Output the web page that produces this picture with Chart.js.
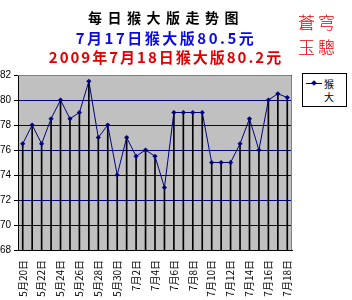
<!DOCTYPE html>
<html>
<head>
<meta charset="utf-8">
<script src="https://cdn.jsdelivr.net/npm/chart.js@4"></script>
<style>
  html, body { margin: 0; padding: 0; background: #fff; }
  body { width: 352px; height: 300px; overflow: hidden; position: relative; }
  #wrap { position: absolute; left: -4px; top: 0; width: 356px; height: 315px; }
  .t { position: absolute; left: 0; width: 332px; text-align: center; font-weight: bold;
       font-family: "Noto Sans CJK SC", sans-serif; white-space: nowrap; }
  #t1 { top: 7px; font-size: 14px; line-height: 20px; letter-spacing: 5.5px; color: #000; }
  #t2 { top: 28px; font-size: 15px; line-height: 20px; letter-spacing: 2.5px; color: #0a0ae6; }
  #t3 { top: 47px; font-size: 15px; line-height: 20px; letter-spacing: 2px; color: #e00000; }
  .seal { position: absolute; left: 298px; font-size: 17px; line-height: 20px; color: #e00000;
          font-family: "Noto Sans CJK TC", sans-serif; font-weight: 300; letter-spacing: 3px; }
  #legend { position: absolute; left: 302px; top: 73px; width: 43px; height: 32px;
            border: 1px solid #000; background: #fff; font-family: "Noto Sans CJK SC", sans-serif;
            font-size: 10px; line-height: 13px; }
  #legend .ln { position: absolute; left: 3px; top: 9px; width: 16px; height: 1px; background: #000080; }
  #legend .mk { position: absolute; left: 9px; top: 7px; width: 4px; height: 4px; background: #000080;
                transform: rotate(45deg); }
  #legend .tx { position: absolute; left: 21px; top: 3px; }
</style>
</head>
<body>
<div id="wrap"><canvas id="c" width="356" height="315"></canvas></div>
<div class="t" id="t1">每日猴大版走势图</div>
<div class="t" id="t2">7月17日猴大版80.5元</div>
<div class="t" id="t3">2009年7月18日猴大版80.2元</div>
<div class="seal" style="top:12px">蒼穹</div>
<div class="seal" style="top:37px">玉驄</div>
<div id="legend"><div class="ln"></div><div class="mk"></div><div class="tx">猴<br>大</div></div>
<script>
const days = ['5月20日', '5月21日', '5月22日', '5月23日', '5月24日', '5月25日', '5月26日',
  '5月27日', '5月28日', '5月29日', '5月30日',
  '7月1日', '7月2日', '7月3日', '7月4日', '7月5日', '7月6日', '7月7日', '7月8日', '7月9日',
  '7月10日', '7月11日', '7月12日', '7月13日', '7月14日', '7月15日', '7月16日', '7月17日', '7月18日'];
const prices = [76.5, 78, 76.5, 78.5, 80, 78.5, 79, 81.5, 77, 78, 74,
  77, 75.5, 76, 75.5, 73, 79, 79, 79, 79, 75, 75, 75, 76.5, 78.5, 76, 80, 80.5, 80.2];
const yMin = 68, yMax = 82, yStep = 2;

const plotBg = {
  id: 'plotBg',
  beforeDraw(chart) {
    const { ctx, chartArea: a } = chart;
    ctx.save();
    ctx.fillStyle = '#c0c0c0';
    ctx.fillRect(a.left, a.top, a.right - a.left, a.bottom - a.top);
    ctx.restore();
  },
  afterDraw(chart) {
    const { ctx, chartArea: a } = chart;
    ctx.save();
    ctx.strokeStyle = '#808080';
    ctx.lineWidth = 1;
    ctx.beginPath();
    ctx.moveTo(a.left, a.top + 0.5);
    ctx.lineTo(a.right - 0.5, a.top + 0.5);
    ctx.lineTo(a.right - 0.5, a.bottom);
    ctx.stroke();
    ctx.restore();
  }
};

new Chart(document.getElementById('c'), {
  type: 'bar',
  data: {
    labels: days,
    datasets: [
      {
        type: 'line', data: prices, order: 0,
        borderColor: '#000080', borderWidth: 1, tension: 0,
        pointStyle: 'rectRot', pointRadius: 2.6,
        pointBackgroundColor: '#000080', pointBorderColor: '#000080', pointBorderWidth: 0
      },
      {
        type: 'bar', data: prices, order: 1,
        backgroundColor: '#000', barThickness: 1
      }
    ]
  },
  options: {
    responsive: false,
    animation: false,
    devicePixelRatio: 1,
    layout: { padding: { top: 75, right: 60, left: 0, bottom: 0 } },
    plugins: { legend: { display: false }, tooltip: { enabled: false } },
    scales: {
      x: {
        offset: true,
        grid: { display: false, drawTicks: false },
        border: { color: '#000', width: 1 },
        ticks: {
          autoSkip: false, minRotation: 90, maxRotation: 90, padding: 10,
          color: '#000', font: { family: 'Noto Sans CJK SC', size: 10 },
          callback: (v, i) => (i % 2 === 0 ? days[i] : '')
        },
        afterFit: s => { s.height = 65; }
      },
      y: {
        min: yMin, max: yMax,
        grid: { color: '#000080', lineWidth: 1, tickLength: 4, tickColor: '#000' },
        border: { color: '#000', width: 1 },
        ticks: {
          stepSize: yStep, padding: 3, color: '#000',
          font: { family: 'Liberation Sans', size: 10 }
        },
        afterFit: s => { s.width = 22; }
      }
    }
  },
  plugins: [plotBg]
});
</script>
</body>
</html>
